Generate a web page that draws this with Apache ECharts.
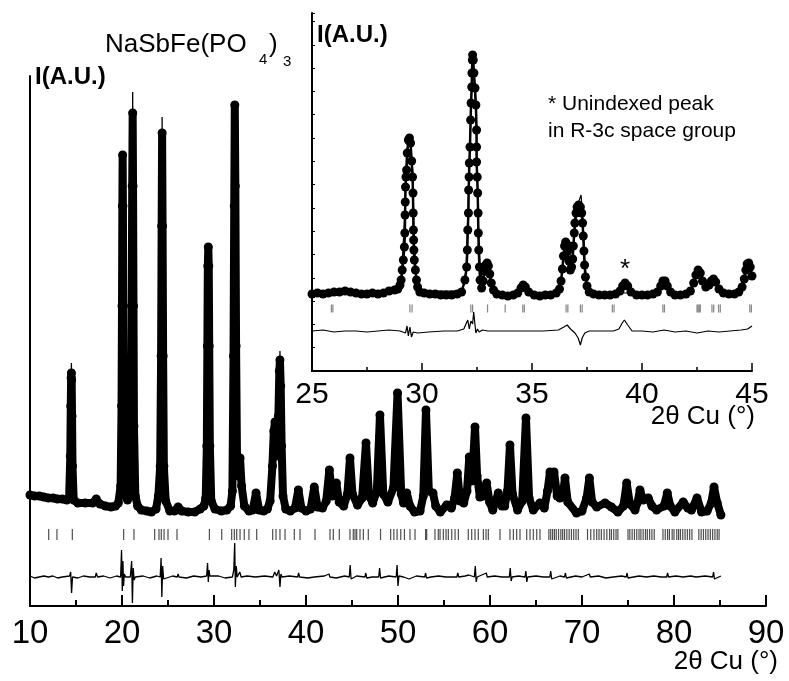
<!DOCTYPE html>
<html>
<head>
<meta charset="utf-8">
<script src="https://cdn.jsdelivr.net/npm/echarts@6/dist/echarts.min.js"></script>
<style>
  html, body { margin: 0; padding: 0; background: #fff; }
  #chart { width: 789px; height: 681px; }
</style>
</head>
<body>
<div id="chart"></div>
<script>
// main pattern, 10-85 deg (2theta, intensity A.U.)
const obsMain = [
  [10.0,111],[10.5,110],[11,110],[11.5,109],[12,108],[12.5,108],[13,107],[13.5,107],[14.0,106],
  [14.25,108],[14.38,150],[14.43,200],[14.47,228],[14.5,233],[14.53,226],[14.57,190],[14.62,140],[14.75,106],
  [15.2,103],[16,103],[16.8,103],[17.2,107],[17.6,102],[18.2,100],[18.8,99],[19.3,100],
  [19.6,103],[19.85,120],[19.95,200],[20.0,300],[20.04,400],[20.07,451],[20.1,400],[20.14,300],[20.2,180],[20.35,115],
  [20.6,106],[20.85,112],[21.0,180],[21.06,300],[21.11,420],[21.16,493],[21.2,420],[21.25,300],[21.3,180],[21.45,110],
  [21.7,100],[22.1,96],[22.7,95],[23.2,94],
  [23.7,97],[23.95,110],[24.15,140],[24.25,250],[24.31,380],[24.36,473],[24.41,380],[24.47,250],[24.55,140],[24.75,105],
  [25.2,95],[25.7,95],[26.1,99],[26.5,95],[27.2,94],[27.9,94],[28.5,97],[28.9,100],
  [29.1,108],[29.22,160],[29.28,260],[29.33,340],[29.38,359],[29.43,340],[29.48,260],[29.55,160],[29.7,105],
  [30.1,97],[30.8,95],[31.4,96],[31.8,100],
  [32.0,115],[32.12,250],[32.2,400],[32.26,501],[32.32,420],[32.4,260],[32.5,150],[32.62,130],[32.83,148],[33.0,120],
  [33.3,100],[33.8,95],[34.2,96],[34.57,113],[34.9,96],[35.4,95],[35.8,97],
  [36.1,105],[36.35,140],[36.5,175],[36.63,184],[36.78,165],[36.9,150],[37.0,190],[37.1,235],[37.17,246],[37.25,220],
  [37.35,160],[37.5,110],[37.8,97],[38.3,95],[38.8,98],[39.17,116],[39.5,98],[40.0,95],[40.5,97],[40.9,119],
  [41.25,99],[41.8,98],[42.2,105],[42.54,136],[42.85,110],[43.05,112],[43.3,123],[43.6,104],[44.1,100],[44.5,112],
  [44.78,148],[45.05,112],[45.6,101],[46.1,108],[46.52,163],[46.85,110],[47.25,103],[47.7,115],[48.04,191],[48.4,112],
  [48.9,104],[49.5,118],[49.95,213],[50.35,112],[50.6,103],[50.95,113],[51.3,100],[51.8,94],[52.4,95],[52.75,110],
  [53.04,196],[53.35,115],[53.8,113],[54.1,100],[54.6,94],[55.3,101],[55.8,98],[56.15,108],[56.45,133],[56.75,105],
  [57.15,103],[57.5,115],[57.75,149],[58.0,125],[58.2,150],[58.37,179],[58.6,130],[58.9,109],[59.3,110],[59.64,123],
  [59.95,104],[60.3,96],[60.9,113],[61.3,100],[61.6,100],[61.9,115],[62.17,161],[62.45,112],[63.0,96],[63.5,105],
  [63.91,188],[64.25,108],[64.7,96],[65.43,103],[65.9,98],[66.25,115],[66.52,134],[66.75,122],[66.96,134],[67.3,110],
  [67.6,108],[67.9,110],[68.15,128],[68.45,104],[69.4,93],[70.0,95],[70.5,108],[70.8,128],[71.1,104],[71.6,99],
  [72.5,103],[73.2,99],[73.9,94],[74.5,100],[74.86,123],[75.2,102],[75.76,96],[76.05,104],[76.3,116],[76.65,106],
  [77.2,108],[77.6,100],[78.1,96],[78.9,100],[79.27,113],[79.6,100],[80.1,94],[81.0,104],[81.5,98],[81.9,96],
  [82.5,108],[83.0,94],[83.6,95],[84.05,103],[84.35,119],[84.7,103],[85.1,91]
];
// calculated profile, only the peak tips that rise above the observed points
const calcMainPeaks = [
  [[14.4,110],[14.5,243],[14.6,106]],
  [[19.98,150],[20.07,455],[20.16,150]],
  [[21.07,150],[21.16,514],[21.25,150]],
  [[24.27,150],[24.36,489],[24.45,150]],
  [[29.29,150],[29.38,362],[29.47,150]],
  [[32.17,150],[32.26,505],[32.35,150]],
  [[37.08,150],[37.17,255],[37.26,150]]
];
// observed - calculated
const diffMain = [
  [10,1],[10.5,-1],[11,0],[11.5,1],[12,0],[12.5,1],[13,-1],[13.5,0],[14.3,1],[14.42,5],[14.52,-16],[14.62,0],
  [15.2,-1],[15.8,1],[16.5,0],[17.1,0],[17.2,4],[17.35,0],[18,1],[18.7,-1],[19.4,1],[19.85,0],[19.95,27],
  [20.03,-14],[20.1,16],[20.17,-9],[20.25,3],[20.4,0],[20.9,0],[21.05,16],[21.13,-26],[21.22,9],[21.32,-3],
  [21.45,0],[22.3,1],[23,-1],[23.8,1],[24.15,0],[24.25,19],[24.33,-20],[24.42,11],[24.52,-2],[24.65,0],
  [25.5,1],[26.0,0],[26.1,3],[26.2,0],[27,-1],[27.8,1],[28.6,0],[29.2,1],[29.3,14],[29.38,-5],[29.46,7],
  [29.55,1],[29.7,0],[30.5,1],[31.2,-1],[32.0,0],[32.15,7],[32.25,34],[32.32,-10],[32.42,11],[32.52,0],
  [32.8,5],[32.95,0],[33.6,1],[34.5,0],[34.6,2],[34.7,0],[35.5,1],[36.4,0],[36.6,5],[36.8,1],[37.05,7],
  [37.17,-10],[37.27,3],[37.4,0],[38.2,1],[39.1,0],[39.2,4],[39.3,0],[40.2,-1],[40.9,0],[41.0,2],[41.1,0],
  [42.0,1],[42.5,3],[42.6,0],[43.3,-1],[44.2,1],[44.7,0],[44.8,12],[44.9,-2],[45.0,0],[45.5,1],[46.4,0],
  [46.5,4],[46.6,-1],[47.2,0],[47.9,0],[48.0,9],[48.1,-1],[48.2,0],[49.0,1],[49.8,0],[49.9,12],[50.0,-9],
  [50.1,1],[50.6,0],[51.2,-2],[52.0,1],[52.9,0],[53.0,4],[53.1,-1],[53.6,0],[54.4,1],[55.2,0],[56.4,0],
  [56.5,4],[56.6,0],[57.3,1],[57.7,2],[58.3,0],[58.4,11],[58.5,-5],[58.6,0],[59.6,4],[59.7,0],[60.5,1],
  [61.3,0],[62.1,0],[62.2,9],[62.3,-4],[62.4,0],[63.1,1],[63.8,0],[63.9,6],[64.0,-5],[64.1,0],[65.0,1],
  [65.8,0],[66.5,0],[66.6,6],[66.7,-2],[66.8,0],[67.6,1],[68.1,0],[68.2,4],[68.3,-1],[68.5,0],[69.3,1],
  [70.0,0],[70.8,3],[70.9,0],[71.8,1],[72.6,-1],[73.4,0],[74.3,1],[74.8,0],[74.9,4],[75.0,-1],[75.2,0],
  [76.2,1],[77.0,0],[77.8,1],[78.6,0],[79.2,0],[79.3,4],[79.4,0],[80.2,1],[81.0,0],[81.8,1],[82.4,0],
  [82.5,2],[82.6,0],[83.4,1],[84.2,0],[84.3,5],[84.4,-2],[84.5,0],[85.1,1]
];
const braggMain = [
  12.03,12.93,14.6,20.18,21.3,23.55,24.02,24.27,24.57,25.0,25.98,29.5,30.84,
  31.92,32.21,32.47,32.83,33.29,33.8,34.64,36.38,36.74,37.17,37.72,38.73,39.35,40.98,42.61,42.97,43.62,
  44.78,45.14,45.33,45.51,45.87,46.23,46.77,48.1,49.2,49.55,49.9,50.3,50.7,51.3,51.85,
  53.0,53.12,54.02,54.38,54.57,54.93,55.22,55.47,55.84,56.2,56.56,57.64,58.01,58.37,58.73,59.28,59.57,59.82,
  61.09,62.17,62.54,62.9,63.26,63.99,64.35,64.71,65.08,65.43,
  66.4,66.6,66.8,67.0,67.2,67.45,67.7,67.9,68.1,68.35,68.6,68.85,69.1,69.35,69.6,
  70.6,70.95,71.3,71.6,71.85,72.1,72.4,72.7,73.0,73.2,73.45,73.7,73.9,
  75.0,75.2,75.45,75.7,75.95,76.2,76.4,76.65,76.9,77.1,77.35,77.6,77.85,
  78.8,79.05,79.3,79.5,79.8,80.0,80.3,80.5,80.7,80.95,81.2,81.45,81.7,81.95,
  82.7,82.95,83.2,83.45,83.7,83.95,84.2,84.45,84.7,84.9
];

// inset, 25-45 deg
const obsInset = [
  [25.0,77],[25.25,78],[25.5,77],[25.75,78],[26.0,79],[26.25,79],[26.5,80],[26.75,79],[27.0,78],[27.25,77],
  [27.5,77],[27.75,78],[28.0,77],[28.25,78],[28.5,80],[28.75,81],[28.9,82],
  [29.0,86],[29.05,91],[29.1,101],[29.15,111],[29.2,124],[29.22,138],[29.23,156],[29.24,169],[29.25,184],
  [29.27,194],[29.3,201],[29.33,218],[29.38,231],[29.43,233],[29.48,228],[29.53,210],[29.57,194],[29.59,178],
  [29.6,158],[29.61,141],[29.62,131],[29.63,121],[29.65,111],[29.7,101],[29.75,91],[29.8,84],
  [29.9,79],[30.1,78],[30.35,77],[30.6,77],[30.85,76],[31.1,76],[31.35,76],[31.6,77],[31.8,79],[31.95,91],
  [32.03,104],[32.06,121],[32.08,141],[32.11,158],[32.12,181],[32.14,194],[32.15,208],[32.18,224],[32.21,251],
  [32.23,268],[32.26,284],[32.27,298],[32.29,311],[32.3,316],[32.33,311],[32.36,298],[32.41,283],[32.45,266],
  [32.48,241],[32.48,224],[32.48,209],[32.51,194],[32.53,178],[32.55,158],[32.56,138],[32.58,121],[32.61,104],
  [32.64,91],[32.71,83],
  [32.78,90],[32.84,100],[32.9,106],[32.96,108],[33.02,105],[33.08,97],[33.15,88],[33.25,81],[33.4,77],
  [33.65,76],[33.9,75],[34.15,76],[34.35,78],[34.5,83],[34.6,86],[34.7,84],[34.85,79],[35.1,76],[35.35,75],
  [35.6,76],[35.85,76],[36.1,78],[36.25,82],
  [36.32,90],[36.38,102],[36.43,115],[36.48,125],[36.53,129],[36.58,127],[36.63,120],[36.68,110],[36.74,101],[36.8,104],
  [36.85,112],[36.88,125],[36.92,138],[36.95,148],[37.0,158],[37.05,164],[37.12,166],[37.2,164],[37.26,158],
  [37.3,148],[37.33,135],[37.36,120],[37.39,106],[37.43,94],[37.5,85],[37.6,79],
  [37.8,77],[38.05,76],[38.3,76],[38.55,76],[38.8,77],[39.0,80],[39.12,85],[39.23,88],[39.35,85],[39.5,79],
  [39.75,76],[40.0,76],[40.25,76],[40.5,77],[40.7,79],[40.85,85],[40.95,90],[41.05,90],[41.15,85],[41.3,79],
  [41.5,76],[41.75,76],[42.0,77],[42.2,80],[42.35,88],[42.45,96],[42.55,101],[42.65,98],[42.75,90],[42.9,84],
  [43.05,86],[43.15,90],[43.25,92],[43.35,89],[43.5,82],[43.7,78],[43.95,77],[44.2,77],[44.4,79],[44.55,84],
  [44.65,92],[44.72,101],[44.78,107],[44.85,108],[44.92,104],[45.0,95]
];
const calcInset = [
  [25,77],[28.8,80],[29.05,88],[29.2,150],[29.3,220],[29.45,236],[29.58,200],[29.65,130],[29.75,92],[29.9,80],
  [31.85,80],[32.0,100],[32.15,200],[32.3,318],[32.45,260],[32.56,150],[32.65,100],[32.75,92],[32.95,108],
  [33.15,88],[33.4,78],[34.3,77],[34.6,85],[34.9,77],[36.2,80],[36.35,95],[36.52,124],[36.7,105],[36.8,106],
  [36.95,145],[37.1,168],[37.23,176],[37.32,150],[37.4,110],[37.5,86],[37.7,78],[40.7,78],[41.0,89],[41.3,78],
  [42.2,80],[42.55,100],[42.85,85],[43.25,91],[43.6,80],[44.4,79],[44.8,107],[45,96]
];
const diffInset = [
  [25,0],[25.5,1],[26,-1],[26.5,0],[27,0],[27.5,-1],[28,0],[28.5,1],[29.0,0],[29.25,-2],[29.32,5],[29.38,-5],
  [29.45,4],[29.52,-6],[29.6,-1],[29.8,-2],[30.3,-1],[31,0],[31.6,0],[31.9,2],[32.0,7],[32.08,11],[32.15,2],
  [32.22,10],[32.3,7],[32.35,19],[32.4,8],[32.45,-2],[32.52,2],[32.6,-1],[32.75,1],[33.0,0],[33.5,0],[34,0],
  [35,0],[35.5,0],[36.2,1],[36.45,4],[36.6,6],[36.75,2],[36.95,-2],[37.1,-7],[37.2,-14],[37.28,-7],[37.4,-2],
  [37.6,0],[38,0],[38.7,0],[38.95,2],[39.1,8],[39.2,11],[39.35,6],[39.55,0],[40,0],[40.5,-1],[41,1],[41.5,-1],
  [42,0],[42.5,-2],[43,0],[43.5,-1],[44,0],[44.5,1],[44.8,2],[45,5]
];
const braggInset = [
  25.88,25.95,29.45,29.55,32.22,32.3,32.98,33.78,34.58,34.65,36.55,36.63,37.2,37.28,38.65,38.73,
  40.95,41.02,42.5,42.55,42.6,42.65,43.18,43.26,43.48,43.56,44.9,44.97
];
const unindexedPeak = [39.23, 101];

const FONT = "'Liberation Sans', Arial, sans-serif";
const MAIN_DIFF_Y = 29, MAIN_TICK_Y = 71.5;
const INSET_DIFF_Y = 40, INSET_TICK_Y = 62.5;

// join the separate calc tips with empty points so the line breaks between them
const calcMain = [];
calcMainPeaks.forEach((pk, i) => {
  if (i > 0) calcMain.push([pk[0][0], '-']);
  pk.forEach(p => calcMain.push(p));
});

const chart = echarts.init(document.getElementById('chart'));

chart.setOption({
  animation: false,
  backgroundColor: '#fff',
  grid: [
    { left: 30, right: 23, top: 76, bottom: 75 },
    { left: 312, right: 37, top: 13, bottom: 310 }
  ],
  xAxis: [
    {
      gridIndex: 0, type: 'value', min: 10, max: 90, interval: 10,
      axisLine: { lineStyle: { color: '#000', width: 2 } },
      axisTick: { inside: true, length: 11, lineStyle: { color: '#000', width: 2 } },
      minorTick: { show: true, splitNumber: 2, length: 6, lineStyle: { color: '#000', width: 2 } },
      axisLabel: { fontSize: 33, color: '#000', margin: 11, fontFamily: FONT },
      splitLine: { show: false }
    },
    {
      gridIndex: 1, type: 'value', min: 25, max: 45, interval: 5,
      axisLine: { lineStyle: { color: '#000', width: 2 } },
      axisTick: { inside: true, length: 8, lineStyle: { color: '#000', width: 1.5 } },
      minorTick: { show: true, splitNumber: 2, length: 4, lineStyle: { color: '#000', width: 1.5 } },
      axisLabel: { fontSize: 30, color: '#000', margin: 9, fontFamily: FONT },
      splitLine: { show: false }
    }
  ],
  yAxis: [
    {
      gridIndex: 0, type: 'value', min: 0, max: 530,
      axisLine: { show: true, lineStyle: { color: '#000', width: 2 } },
      axisTick: { show: false }, axisLabel: { show: false }, splitLine: { show: false }
    },
    {
      gridIndex: 1, type: 'value', min: 0, max: 358, interval: 23.3,
      axisLine: { show: true, lineStyle: { color: '#000', width: 2 } },
      axisTick: { show: true, inside: true, length: 3, lineStyle: { color: '#000', width: 1 } },
      axisLabel: { show: false }, splitLine: { show: false }
    }
  ],
  series: [
    {
      type: 'line', xAxisIndex: 0, yAxisIndex: 0, data: obsMain,
      symbol: 'circle', symbolSize: 9, showSymbol: true, itemStyle: { color: '#000' },
      lineStyle: { color: '#000', width: 8, cap: 'round', join: 'round' }, silent: true, z: 2
    },
    {
      type: 'line', xAxisIndex: 0, yAxisIndex: 0, data: calcMain, showSymbol: false,
      connectNulls: false, lineStyle: { color: '#000', width: 1.3 }, silent: true, z: 3
    },
    {
      type: 'scatter', xAxisIndex: 0, yAxisIndex: 0,
      data: braggMain.map(x => [x, MAIN_TICK_Y]),
      symbol: 'rect', symbolSize: [1.2, 11], itemStyle: { color: '#222' }, silent: true
    },
    {
      type: 'line', xAxisIndex: 0, yAxisIndex: 0,
      data: diffMain.map(d => [d[0], d[1] + MAIN_DIFF_Y]), showSymbol: false,
      lineStyle: { color: '#000', width: 1.3 }, silent: true
    },
    {
      type: 'line', xAxisIndex: 1, yAxisIndex: 1, data: obsInset,
      symbol: 'circle', symbolSize: 9, showSymbol: true, itemStyle: { color: '#000' },
      lineStyle: { color: '#000', width: 2.5 }, silent: true, z: 4,
      markPoint: {
        symbol: 'circle', symbolSize: 0, silent: true,
        label: { show: true, formatter: '*', fontSize: 26, color: '#000', fontFamily: FONT },
        data: [{ coord: unindexedPeak }]
      }
    },
    {
      type: 'line', xAxisIndex: 1, yAxisIndex: 1, data: calcInset, showSymbol: false,
      lineStyle: { color: '#000', width: 1.2 }, silent: true, z: 5
    },
    {
      type: 'scatter', xAxisIndex: 1, yAxisIndex: 1,
      data: braggInset.map(x => [x, INSET_TICK_Y]),
      symbol: 'rect', symbolSize: [1.2, 8], itemStyle: { color: '#666' }, silent: true
    },
    {
      type: 'line', xAxisIndex: 1, yAxisIndex: 1,
      data: diffInset.map(d => [d[0], d[1] + INSET_DIFF_Y]), showSymbol: false,
      lineStyle: { color: '#000', width: 1.2 }, silent: true
    }
  ],
  graphic: [
    { type: 'text', left: 105, top: 32, style: { text: 'NaSbFe(PO', font: '26px ' + FONT, fill: '#000' } },
    { type: 'text', left: 259, top: 52, style: { text: '4', font: '15px ' + FONT, fill: '#000' } },
    { type: 'text', left: 269, top: 32, style: { text: ')', font: '26px ' + FONT, fill: '#000' } },
    { type: 'text', left: 283, top: 54, style: { text: '3', font: '15px ' + FONT, fill: '#000' } },
    { type: 'text', left: 35, top: 65, style: { text: 'I(A.U.)', font: 'bold 24px ' + FONT, fill: '#000' } },
    { type: 'text', left: 317, top: 23, style: { text: 'I(A.U.)', font: 'bold 24px ' + FONT, fill: '#000' } },
    { type: 'text', left: 548, top: 94, style: { text: '* Unindexed peak', font: '21px ' + FONT, fill: '#000' } },
    { type: 'text', left: 548, top: 121, style: { text: 'in R-3c space group', font: '21px ' + FONT, fill: '#000' } },
    { type: 'text', right: 11, top: 649, style: { text: '2\u03b8 Cu (\u00b0)', font: '26px ' + FONT, fill: '#000' } },
    { type: 'text', right: 34, top: 404, style: { text: '2\u03b8 Cu (\u00b0)', font: '26px ' + FONT, fill: '#000' } }
  ]
});
</script>
</body>
</html>
